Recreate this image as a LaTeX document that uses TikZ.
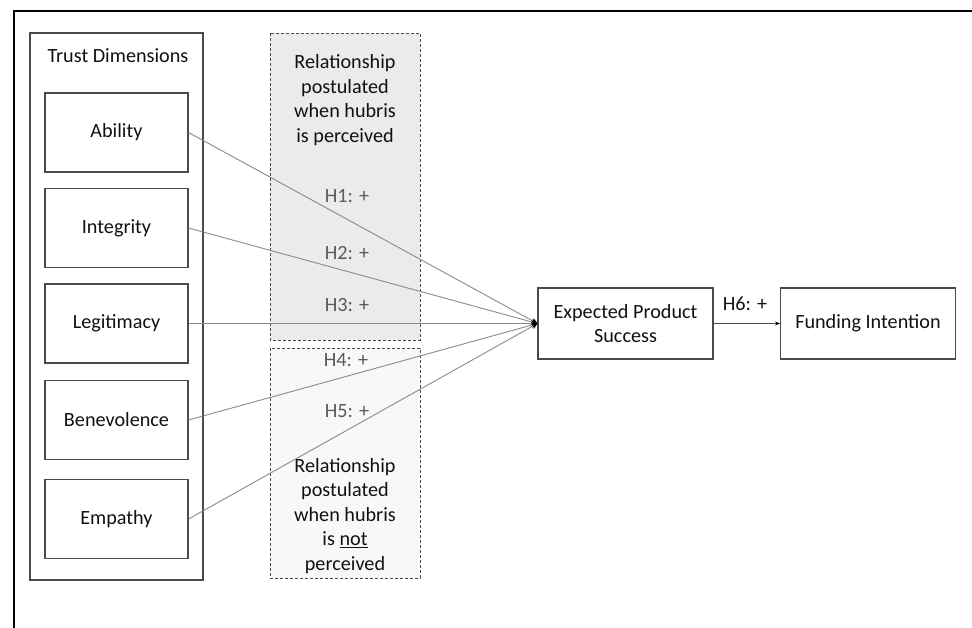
\documentclass[tikz,border=0pt]{standalone}
\usepackage{fontspec}
\setmainfont{Carlito}
\usetikzlibrary{arrows.meta}
\definecolor{boxline}{HTML}{4A4A4A}
\definecolor{conn}{HTML}{8A8A8A}
\definecolor{hlab}{HTML}{5A5A5A}
\definecolor{fillup}{HTML}{EBEBEB}
\definecolor{filllow}{HTML}{F8F8F8}
\definecolor{txt}{HTML}{111111}
\begin{document}
\begin{tikzpicture}[x=1pt,y=-1pt,
  every node/.style={font=\fontsize{20.2}{24.5}\selectfont, text=txt},
  dimbox/.style={draw=boxline, line width=1.1pt, minimum width=143pt, minimum height=79pt, inner sep=0pt},
  outbox/.style={draw=boxline, line width=1.1pt, minimum width=175pt, minimum height=71pt, inner sep=0pt, align=center},
  hubbox/.style={draw=boxline, line width=0.9pt, dash pattern=on 3pt off 2pt},
  hyp/.style={text=hlab},
  link/.style={draw=conn, line width=0.9pt, -{Stealth[length=6pt,width=6pt,black]}},
  lab/.style={align=center}
]
\useasboundingbox (0,0) rectangle (972,628);
% outer frame (only top and left edges visible)
\draw[line width=2.6pt, black] (14,640) -- (14,11) -- (990,11);

% hubris boxes
\filldraw[hubbox, fill=fillup] (270,33) rectangle (420,340);
\filldraw[hubbox, fill=filllow] (270,348) rectangle (420,578);
\node[lab] (uptext) at (345,100) {Relationship\\postulated\\when hubris\\is perceived};
\node[lab] (lowtext) at (345,516) {Relationship\\postulated\\when hubris\\is \underline{not}\\perceived};

% trust dimension container
\node[draw=boxline, line width=1.1pt, minimum width=173pt, minimum height=547pt, inner sep=0pt] (trust) at (116.5,306.5) {};
\node (trusttitle) at (118,56) {Trust Dimensions};
\node[dimbox] (ability) at (116.5,132.5) {Ability};
\node[dimbox] (integrity) at (116.5,228) {Integrity};
\node[dimbox] (legitimacy) at (116.5,323.5) {Legitimacy};
\node[dimbox] (benevolence) at (116.5,420) {Benevolence};
\node[dimbox] (empathy) at (116.5,519) {Empathy};

% outcome boxes
\node[outbox] (eps) at (625.5,323.5) {Expected Product\\Success};
\node[outbox] (fi) at (868,323.5) {Funding Intention};

% connectors
\draw[link] (ability.east) -- (eps.west);
\draw[link] (integrity.east) -- (eps.west);
\draw[link] (legitimacy.east) -- (eps.west);
\draw[link] (benevolence.east) -- (eps.west);
\draw[link] (empathy.east) -- (eps.west);
\draw[draw=boxline, line width=0.8pt, -{Stealth[length=5pt,width=4pt,black]}] (eps.east) -- (fi.west);

% hypothesis labels
\node[hyp] (h1) at (347,196) {H1: +};
\node[hyp] (h2) at (347,253) {H2: +};
\node[hyp] (h3) at (347,305) {H3: +};
\node[hyp] (h4) at (346,360) {H4: +};
\node[hyp] (h5) at (347,411) {H5: +};
\node (h6) at (745,304) {H6: +};
\end{tikzpicture}
\end{document}
